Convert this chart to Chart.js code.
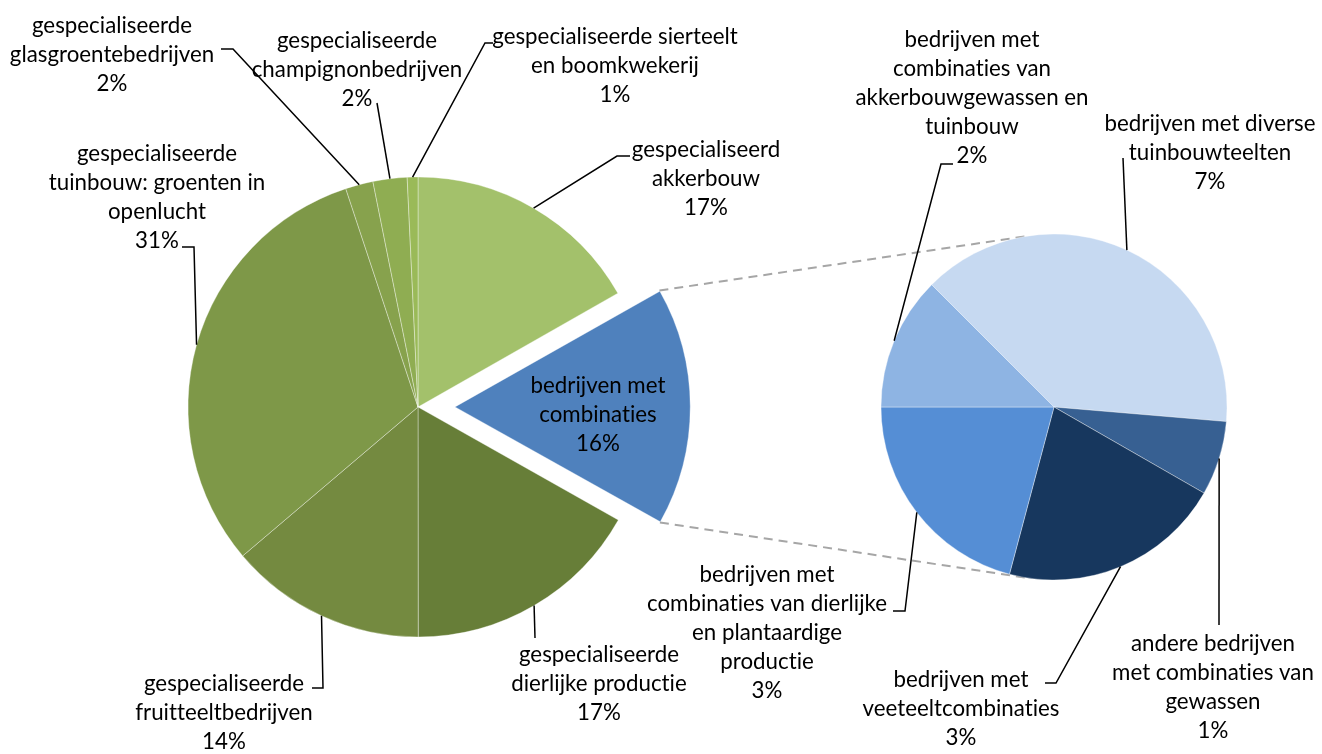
<!DOCTYPE html>
<html><head><meta charset="utf-8">
<script src="https://cdn.jsdelivr.net/npm/chart.js@4/dist/chart.umd.min.js"></script>
<style>
html,body{margin:0;padding:0;background:#fff;}
#wrap{position:relative;width:1322px;height:754px;overflow:hidden;}
canvas{position:absolute;left:0;top:0;}
</style>
</head><body>
<div id="wrap"><canvas id="c1" width="1322" height="754"></canvas><canvas id="c2" width="1322" height="754"></canvas></div>
<script>
// ---------- DATA ----------
const mainCategories = [
  'gespecialiseerd akkerbouw',
  'bedrijven met combinaties',
  'gespecialiseerde dierlijke productie',
  'gespecialiseerde fruitteeltbedrijven',
  'gespecialiseerde tuinbouw: groenten in openlucht',
  'gespecialiseerde glasgroentebedrijven',
  'gespecialiseerde champignonbedrijven',
  'gespecialiseerde sierteelt en boomkwekerij'
];
const mainValues = [16.75, 16.4, 16.8, 13.8, 31.1, 1.94, 2.39, 0.75];
const mainPctLabels = ['17%', '16%', '17%', '14%', '31%', '2%', '2%', '1%'];
const mainLabelLines = [
  ['gespecialiseerd', 'akkerbouw'],
  ['bedrijven met', 'combinaties'],
  ['gespecialiseerde', 'dierlijke productie'],
  ['gespecialiseerde', 'fruitteeltbedrijven'],
  ['gespecialiseerde', 'tuinbouw: groenten in', 'openlucht'],
  ['gespecialiseerde', 'glasgroentebedrijven'],
  ['gespecialiseerde', 'champignonbedrijven'],
  ['gespecialiseerde sierteelt', 'en boomkwekerij']
];
const subCategories = [
  'bedrijven met diverse tuinbouwteelten',
  'andere bedrijven met combinaties van gewassen',
  'bedrijven met veeteeltcombinaties',
  'bedrijven met combinaties van dierlijke en plantaardige productie',
  'bedrijven met combinaties van akkerbouwgewassen en tuinbouw'
];
const subValues = [6.37, 1.14, 3.42, 3.42, 2.05];
const subPctLabels = ['7%', '1%', '3%', '3%', '2%'];
const subLabelLines = [
  ['bedrijven met diverse', 'tuinbouwteelten'],
  ['andere bedrijven', 'met combinaties van', 'gewassen'],
  ['bedrijven met', 'veeteeltcombinaties'],
  ['bedrijven met', 'combinaties van dierlijke', 'en plantaardige', 'productie'],
  ['bedrijven met', 'combinaties van', 'akkerbouwgewassen en', 'tuinbouw']
];

// ---------- STYLE ----------
const mainColors = ['#A3C16B', '#4F81BD', '#677E38', '#748A40', '#7E9848', '#87A24D', '#8FAD52', '#9ABA58'];
const subColors = ['#C6D9F1', '#376092', '#17375E', '#558ED5', '#8EB4E3'];
const EXPLODE = 37;
const LH = 28.9;
const mainLayout = [
  {cx: 706, y: 157, leader: [[630, 156], [617, 156]]},
  {cx: 598, y: 393, leader: null},
  {cx: 599, y: 662, leader: [[535, 638]]},
  {cx: 224, y: 691, leader: [[312, 688], [323, 688]]},
  {cx: 157, y: 161, leader: [[182, 247], [194, 247]]},
  {cx: 112, y: 33, leader: [[221, 49], [233, 49]]},
  {cx: 357, y: 48, leader: [[377, 103]]},
  {cx: 615, y: 44, leader: [[493, 43], [485, 43]]}
];
const subLayout = [
  {cx: 1210, y: 131, leader: [[1123, 158]]},
  {cx: 1213, y: 651, leader: [[1219, 625]]},
  {cx: 961, y: 687, leader: [[1045, 683], [1056, 683]]},
  {cx: 767, y: 582, leader: [[893, 611], [905, 611]]},
  {cx: 972, y: 47, leader: [[953, 164], [941, 164]]}
];

// fit font width to reference
const mctx = document.createElement('canvas').getContext('2d');
mctx.font = '100px Lato';
if ('letterSpacing' in mctx) mctx.letterSpacing = '0.01px';
const FONT_SIZE = 100 * 160 / mctx.measureText('gespecialiseerde').width;
const FONT = FONT_SIZE.toFixed(2) + 'px Lato';

function drawLabels(chart, lines, pcts, layout) {
  const ctx = chart.ctx;
  const arcs = chart.getDatasetMeta(0).data;
  ctx.save();
  ctx.font = FONT;
  if ('letterSpacing' in ctx) ctx.letterSpacing = '0.01px';
  ctx.fillStyle = '#000';
  ctx.textAlign = 'center';
  ctx.textBaseline = 'alphabetic';
  ctx.strokeStyle = '#000';
  ctx.lineWidth = 1.5;
  arcs.forEach((arc, i) => {
    const L = layout[i];
    const all = lines[i].concat([pcts[i]]);
    all.forEach((t, k) => ctx.fillText(t, L.cx, L.y + k * LH));
    if (L.leader) {
      const mid = (arc.startAngle + arc.endAngle) / 2;
      const ax = arc.x + Math.cos(mid) * arc.outerRadius;
      const ay = arc.y + Math.sin(mid) * arc.outerRadius;
      ctx.beginPath();
      ctx.moveTo(L.leader[0][0], L.leader[0][1]);
      for (let k = 1; k < L.leader.length; k++) ctx.lineTo(L.leader[k][0], L.leader[k][1]);
      ctx.lineTo(ax, ay);
      ctx.stroke();
    }
  });
  ctx.restore();
}

const baseOpts = {
  responsive: false,
  animation: false,
  events: [],
  plugins: {legend: {display: false}, tooltip: {enabled: false}},
  elements: {arc: {borderColor: 'rgba(255,255,255,0.45)', borderWidth: 0.8}}
};

const leftChart = new Chart(document.getElementById('c1'), {
  type: 'pie',
  data: {
    labels: mainCategories,
    datasets: [{
      data: mainValues,
      backgroundColor: mainColors,
      offset: mainValues.map((v, i) => i === 1 ? EXPLODE * 4 : 0)
    }]
  },
  options: Object.assign({}, baseOpts, {
    rotation: 0,
    radius: 230,
    layout: {padding: {left: 0, right: 486, top: 60, bottom: 0}}
  }),
  plugins: [{
    id: 'mainLabels',
    afterDatasetsDraw(chart) { drawLabels(chart, mainLabelLines, mainPctLabels, mainLayout); }
  }]
});

const rightChart = new Chart(document.getElementById('c2'), {
  type: 'pie',
  data: {
    labels: subCategories,
    datasets: [{data: subValues, backgroundColor: subColors}]
  },
  options: Object.assign({}, baseOpts, {
    rotation: -45,
    radius: 173,
    layout: {padding: {left: 786, right: 0, top: 60, bottom: 0}}
  }),
  plugins: [{
    id: 'connectors',
    beforeDatasetsDraw(chart) {
      const la = leftChart.getDatasetMeta(0).data[1];
      const mid = (la.startAngle + la.endAngle) / 2;
      const circ = la.endAngle - la.startAngle;
      const fix = 1 - Math.sin(Math.min(Math.PI, circ));
      const R = la.outerRadius + EXPLODE * fix;
      const ex = la.x + Math.cos(mid) * EXPLODE, ey = la.y + Math.sin(mid) * EXPLODE;
      const p1 = [ex + Math.cos(la.startAngle) * R, ey + Math.sin(la.startAngle) * R];
      const p2 = [ex + Math.cos(la.endAngle) * R, ey + Math.sin(la.endAngle) * R];
      const ra = chart.getDatasetMeta(0).data[0];
      const cx = ra.x, cy = ra.y, r = ra.outerRadius;
      function tangent(p, upper) {
        const dx = p[0] - cx, dy = p[1] - cy;
        const d = Math.hypot(dx, dy);
        const phi = Math.atan2(dy, dx);
        const a = Math.acos(r / d);
        const t1 = [cx + Math.cos(phi + a) * r, cy + Math.sin(phi + a) * r];
        const t2 = [cx + Math.cos(phi - a) * r, cy + Math.sin(phi - a) * r];
        if (upper) return t1[1] < t2[1] ? t1 : t2;
        return t1[1] > t2[1] ? t1 : t2;
      }
      const q1 = tangent(p1, true), q2 = tangent(p2, false);
      const ctx = chart.ctx;
      ctx.save();
      ctx.strokeStyle = '#A6A6A6';
      ctx.lineWidth = 2;
      ctx.setLineDash([9, 6]);
      ctx.beginPath();
      ctx.moveTo(p1[0], p1[1]); ctx.lineTo(q1[0], q1[1]);
      ctx.moveTo(p2[0], p2[1]); ctx.lineTo(q2[0], q2[1]);
      ctx.stroke();
      ctx.restore();
    },
    afterDatasetsDraw(chart) { drawLabels(chart, subLabelLines, subPctLabels, subLayout); }
  }]
});
</script>
</body></html>
